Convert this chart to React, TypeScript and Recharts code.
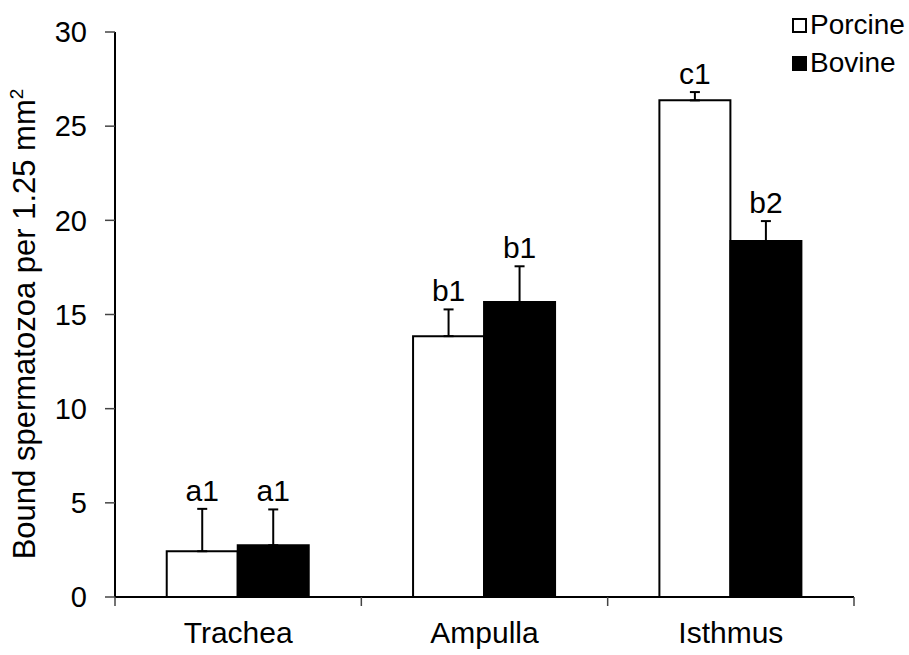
import { BarChart, Bar, XAxis, YAxis, ErrorBar, LabelList, Legend } from "recharts";

const regions = ["Trachea", "Ampulla", "Isthmus"];
const seriesNames = ["Porcine", "Bovine"];
const porcine = [2.43, 13.85, 26.37];
const bovine = [2.75, 15.66, 18.9];
const porcineSem = [2.25, 1.42, 0.44];
const bovineSem = [1.9, 1.9, 1.06];
const porcineLetters = ["a1", "b1", "c1"];
const bovineLetters = ["a1", "b1", "b2"];
const yTicks = [0, 5, 10, 15, 20, 25, 30];

const data = regions.map((region, i) => ({
  region,
  porcine: porcine[i],
  bovine: bovine[i],
  porcineErr: [0, porcineSem[i]],
  bovineErr: [0, bovineSem[i]],
  porcineTag: porcineLetters[i],
  bovineTag: bovineLetters[i],
}));

const FONT = "'Liberation Sans', Arial, sans-serif";

function CategoryTick(props: any) {
  const { x, y, payload, index } = props;
  const half = payload.offset ?? 0;
  return (
    <g>
      <line x1={x - half} x2={x - half} y1={y} y2={y + 9} stroke="#444" strokeWidth={1.5} />
      {index === regions.length - 1 && (
        <line x1={x + half} x2={x + half} y1={y} y2={y + 9} stroke="#444" strokeWidth={1.5} />
      )}
      <text x={x} y={y + 46} textAnchor="middle" fontSize={30} fill="#000" fontFamily={FONT}>
        {payload.value}
      </text>
    </g>
  );
}

function YTitle() {
  return (
    <text transform="translate(35, 324) rotate(-90)" textAnchor="middle" fontSize={31} fill="#000" fontFamily={FONT}>
      Bound spermatozoa per 1.25 mm
      <tspan dy={-12} fontSize={19}>2</tspan>
    </text>
  );
}

// letters sit above the error bar, so shift by err converted with the bar's own px/unit
const letterLabel = (values: number[], errs: number[]) => (props: any) => {
  const { x, y, width, height, value, index } = props;
  const pxPerUnit = height / values[index];
  const top = y - errs[index] * pxPerUnit;
  return (
    <text x={x + width / 2} y={top - 8} textAnchor="middle" fontSize={30} fill="#000" fontFamily={FONT}>
      {value}
    </text>
  );
};

function LegendBox({ payload }: any) {
  const items = [...(payload || [])].sort(
    (a: any, b: any) => seriesNames.indexOf(a.value) - seriesNames.indexOf(b.value)
  );
  return (
    <div style={{ fontFamily: FONT, fontSize: 28, color: "#000" }}>
      {items.map((p: any) => (
        <div key={p.value} style={{ display: "flex", alignItems: "center", height: 38 }}>
          <span
            style={{
              display: "inline-block",
              width: 11,
              height: 11,
              border: "2px solid #000",
              background: p.value === "Porcine" ? "#fff" : "#000",
              marginRight: 3,
            }}
          />
          <span>{p.value}</span>
        </div>
      ))}
    </div>
  );
}

export default function App() {
  return (
    <div style={{ position: "absolute", left: 0, top: 0, width: 909, height: 655, background: "#fff", fontFamily: FONT }}>
      <BarChart
        width={909}
        height={655}
        data={data}
        margin={{ top: 32, right: 55, left: 0, bottom: 0 }}
        barCategoryGap="21%"
        barGap={0}
      >
        <XAxis
          dataKey="region"
          height={58}
          tickSize={0}
          tickMargin={0}
          tickLine={false}
          axisLine={{ stroke: "#000", strokeWidth: 2 }}
          tick={<CategoryTick />}
        />
        <YAxis
          width={115}
          domain={[0, 30]}
          ticks={yTicks}
          allowDataOverflow
          tickSize={10}
          tickMargin={18}
          axisLine={{ stroke: "#000", strokeWidth: 2 }}
          tickLine={{ stroke: "#444", strokeWidth: 1.5 }}
          tick={{ fontSize: 29, fill: "#000", fontFamily: FONT }}
          label={<YTitle />}
        />
        <Legend
          layout="vertical"
          align="center"
          verticalAlign="middle"
          wrapperStyle={{ top: 6, left: 792, width: 117 }}
          content={<LegendBox />}
        />
        <Bar dataKey="porcine" name="Porcine" fill="#fff" stroke="#000" strokeWidth={2} isAnimationActive={false}>
          <ErrorBar dataKey="porcineErr" width={5} stroke="#000" strokeWidth={2} direction="y" />
          <LabelList dataKey="porcineTag" content={letterLabel(porcine, porcineSem)} />
        </Bar>
        <Bar dataKey="bovine" name="Bovine" fill="#000" stroke="#000" strokeWidth={2} isAnimationActive={false}>
          <ErrorBar dataKey="bovineErr" width={5} stroke="#000" strokeWidth={2} direction="y" />
          <LabelList dataKey="bovineTag" content={letterLabel(bovine, bovineSem)} />
        </Bar>
      </BarChart>
    </div>
  );
}
